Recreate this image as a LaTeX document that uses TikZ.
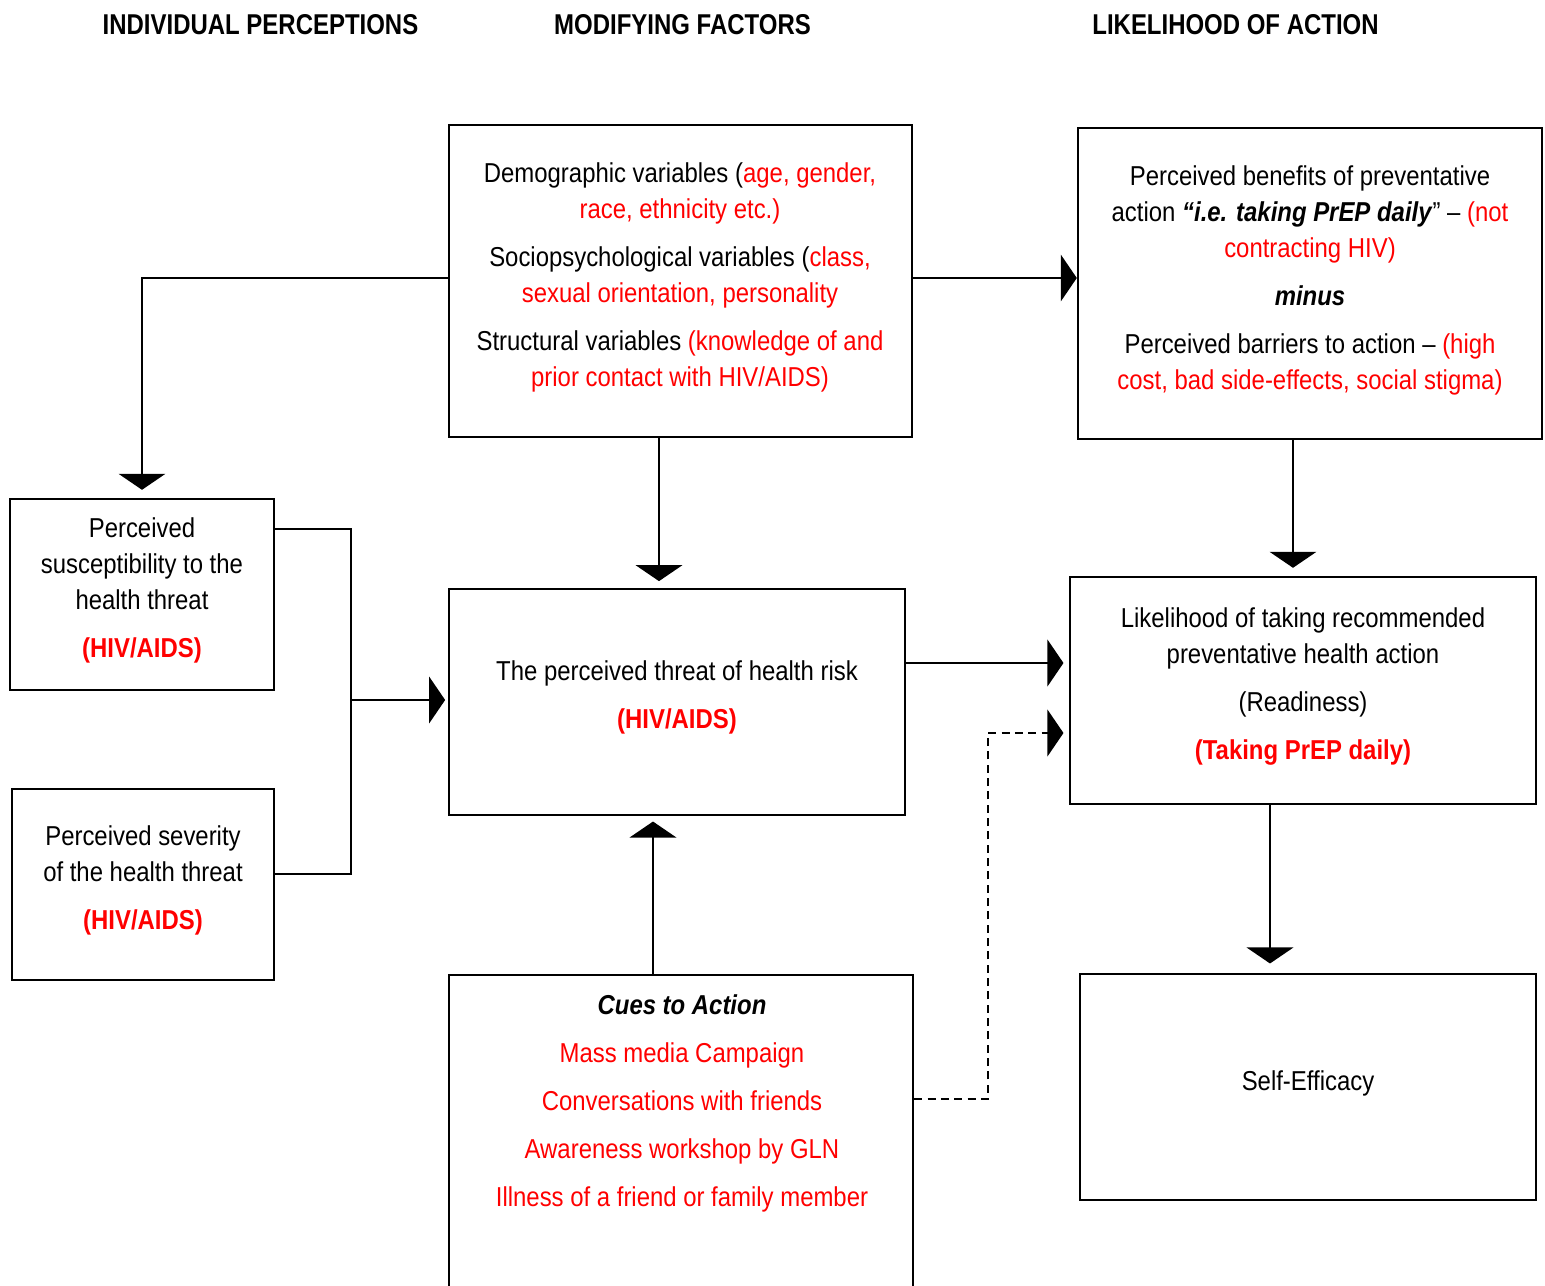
\documentclass[tikz,border=0pt]{standalone}
\usepackage{fontspec}
\setmainfont[FakeStretch=0.875]{Liberation Sans}
\newfontfamily\headfont[FakeStretch=0.836]{Liberation Sans}
\usetikzlibrary{arrows.meta,fit}
\definecolor{tred}{RGB}{255,0,0}
\newcommand\hred[1]{\textcolor{tred}{#1}}
\begin{document}
\begin{tikzpicture}[x=0.75pt,y=-0.75pt,
  box/.style={draw, line width=1.8pt, inner sep=0pt},
  txt/.style={align=center, inner sep=0pt, font=\fontsize{20.5}{27}\selectfont},
  head/.style={inner sep=0pt, font=\headfont\fontsize{21.5}{27}\selectfont\bfseries},
  line/.style={line width=1.1pt},
  conn/.style={line width=1.1pt, -{Triangle[length=12pt,width=35pt]}},
  dconn/.style={line width=1.1pt, dash pattern=on 6pt off 4pt, -{Triangle[length=12pt,width=35pt]}}]
\useasboundingbox (0,0) rectangle (1545,1285);
% headers
\node[head] (h1) at (260.5,25) {INDIVIDUAL PERCEPTIONS};
\node[head] (h2) at (682.5,25) {MODIFYING FACTORS};
\node[head] (h3) at (1235.5,25) {LIKELIHOOD OF ACTION};
% boxes
\node[box, fit={(449,125) (912,437)}] (demo) {};
\node[box, fit={(1078,128) (1542,439)}] (ben) {};
\node[box, fit={(10,499) (274,690)}] (sus) {};
\node[box, fit={(12,789) (274,980)}] (sev) {};
\node[box, fit={(449,589) (905,815)}] (threat) {};
\node[box, fit={(1070,577) (1536,804)}] (ready) {};
\node[box, fit={(449,975) (913,1300)}] (cues) {};
\node[box, fit={(1080,974) (1536,1200)}] (self) {};
% texts
\node[txt] (tdemo) at (680,277) {Demographic variables (\hred{age, gender,}\\
\hred{race, ethnicity etc.)}\\[9pt]
Sociopsychological variables (\hred{class,}\\
\hred{sexual orientation, personality}\\[9pt]
Structural variables \hred{(knowledge of and}\\
\hred{prior contact with HIV/AIDS)}};
\node[txt] (tben) at (1310,280) {Perceived benefits of preventative\\
action \textbf{\textit{“i.e. taking PrEP daily}}” – \hred{(not}\\
\hred{contracting HIV)}\\[9pt]
\textbf{\textit{minus}}\\[9pt]
Perceived barriers to action – \hred{(high}\\
\hred{cost, bad side-effects, social stigma)}};
\node[txt] (tsus) at (142,590.5) {Perceived\\ susceptibility to the\\ health threat\\[9pt] \textbf{\hred{(HIV/AIDS)}}};
\node[txt] (tsev) at (143,880.5) {Perceived severity\\ of the health threat\\[9pt] \textbf{\hred{(HIV/AIDS)}}};
\node[txt] (tthreat) at (677,697.5) {The perceived threat of health risk\\[9pt] \textbf{\hred{(HIV/AIDS)}}};
\node[txt] (tready) at (1303,686.5) {Likelihood of taking recommended\\ preventative health action\\[9pt] (Readiness)\\[9pt] \textbf{\hred{(Taking PrEP daily)}}};
\node[txt] (tcues) at (682,1103.5) {\textbf{\textit{Cues to Action}}\\[9pt]
\hred{Mass media Campaign}\\[9pt]
\hred{Conversations with friends}\\[9pt]
\hred{Awareness workshop by GLN}\\[9pt]
\hred{Illness of a friend or family member}};
\node[txt] (tself) at (1308,1083.5) {Self-Efficacy};
% helper coordinates
\coordinate (cA) at (141,278);
\coordinate (cB) at (659,0);
\coordinate (cC) at (1293,0);
\coordinate (j1) at (351,529);
\coordinate (j2) at (351,874);
\coordinate (j3) at (351,700);
\coordinate (cD) at (0,663);
\coordinate (d1) at (988,1099);
\coordinate (d2) at (988,733);
\coordinate (cE) at (653,0);
\coordinate (cF) at (1270,0);
% connectors
\draw[conn, shorten >=6pt] (demo.west |- cA) -| (sus.north);
\draw[conn] (demo.east |- cA) -- (ben.west |- cA);
\draw[conn, shorten >=5pt] (demo.south -| cB) -- (threat.north -| cB);
\draw[conn, shorten >=6pt] (ben.south -| cC) -- (ready.north -| cC);
\draw[line] (sus.east |- j1) -- (j1) -- (j2) -- (sev.east |- j2);
\draw[conn, shorten >=2pt] (j3) -- (threat.west |- j3);
\draw[conn, shorten >=4pt] (threat.east |- cD) -- (ready.west |- cD);
\draw[dconn, shorten >=4pt] (cues.east |- d1) -- (d1) -- (d2) -- (ready.west |- d2);
\draw[conn, shorten >=4pt] (cues.north -| cE) -- (threat.south -| cE);
\draw[conn, shorten >=7pt] (ready.south -| cF) -- (self.north -| cF);
\end{tikzpicture}
\end{document}
